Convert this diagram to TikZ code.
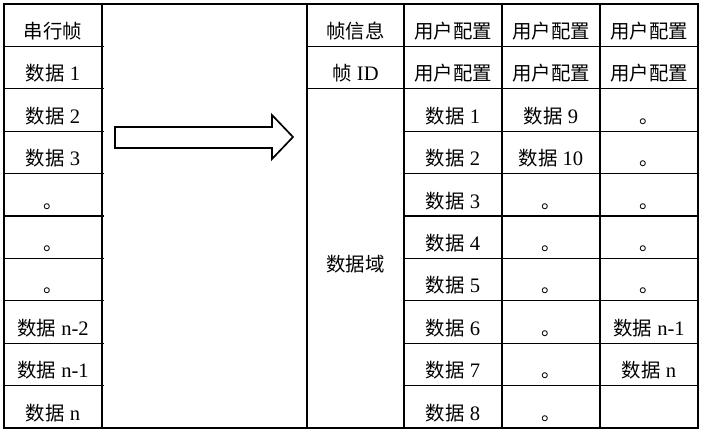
\documentclass[tikz,border=0pt]{standalone}
\usepackage{fontspec}
\setmainfont{Liberation Serif}[Scale=1.06]
\newfontfamily\cjk{Noto Sans CJK SC}
\newcommand{\sj}[1]{{\cjk 数据}~#1}
\newcommand{\juhao}{{\cjk \vphantom{数}。}}
\newcommand{\yhpz}{{\cjk 用户配置}}

\begin{document}
\begin{tikzpicture}[x=0.025cm, y=-0.025cm, line width=0.85pt,
  cell/.style={font=\fontsize{13.8}{16}\selectfont, inner sep=0pt}]
\useasboundingbox (0,0) rectangle (706,437);
% frame and column rules
\draw (4,4) rectangle (698,428);
\foreach \x in {102,307,404,502,600} \draw (\x,4) -- (\x,428);
\foreach \i in {1,...,9} {
  \draw (4,{4+42.4*\i}) -- (104,{4+42.4*\i});
  \draw (404,{4+42.4*\i}) -- (698,{4+42.4*\i});
}
\draw (307,46.4) -- (404,46.4);
\draw (307,88.8) -- (404,88.8);
% serial frame (left)
\foreach \i/\t in {0/{\cjk 串行帧}, 1/\sj{1}, 2/\sj{2}, 3/\sj{3}, 4/\juhao, 5/\juhao,
    6/\juhao, 7/\sj{n-2}, 8/\sj{n-1}, 9/\sj{n}}
  \node[cell] (ser\i) at (53,{31.2+42.4*\i}) {\t};
% conversion arrow
\draw[line width=1.2pt, line join=miter] (115,127) -- (272,127) -- (272,115) -- (293,137)
  -- (272,159) -- (272,148) -- (115,148) -- cycle;
% frame fields (right)
\node[cell] (info) at (355.5,31.2) {{\cjk 帧信息}};
\node[cell] (fid) at (355.5,73.6) {{\cjk 帧} ID};
\node[cell] (dom) at (355.5,264.4) {{\cjk 数据域}};
\foreach \c/\x in {a/453, b/551, c/649} {
  \node[cell] (\c0) at (\x,31.2) {\yhpz};
  \node[cell] (\c1) at (\x,73.6) {\yhpz};
}
\foreach \i in {1,...,8}
  \node[cell] (a\i) at (453,{31.2+42.4*(\i+1)}) {\sj{\i}};
\foreach \i/\t in {2/\sj{9}, 3/\sj{10}, 4/\juhao, 5/\juhao, 6/\juhao, 7/\juhao,
    8/\juhao, 9/\juhao}
  \node[cell] (b\i) at (551,{31.2+42.4*\i}) {\t};
\foreach \i/\t in {2/\juhao, 3/\juhao, 4/\juhao, 5/\juhao, 6/\juhao, 7/\sj{n-1},
    8/\sj{n}}
  \node[cell] (c\i) at (649,{31.2+42.4*\i}) {\t};
\end{tikzpicture}
\end{document}
